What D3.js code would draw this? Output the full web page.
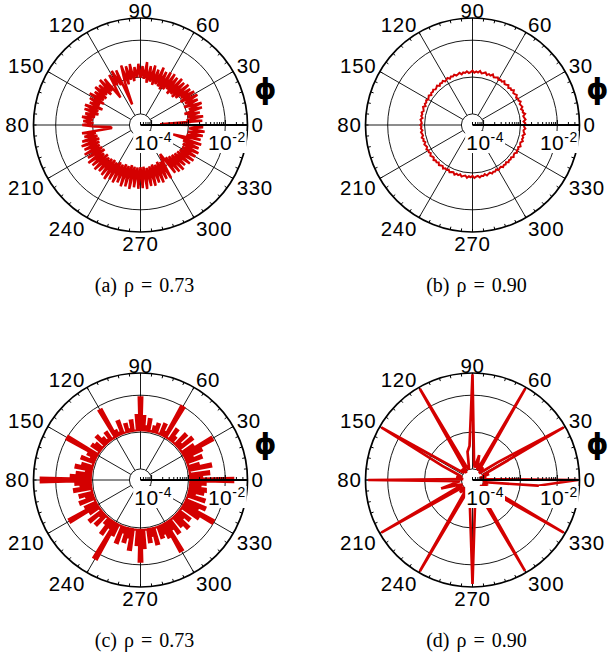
<!DOCTYPE html>
<html>
<head>
<meta charset="utf-8">
<script src="https://cdn.jsdelivr.net/npm/d3@7"></script>
<style>
  body { margin: 0; background: #fff; }
  svg { display: block; }
</style>
</head>
<body>
<svg id="chart" width="610" height="655"></svg>
<script>
const SVG = d3.select('#chart');
const UNIT = 1e-3;   // all series values below are in units of 10^-3

// angle labels, degrees
const labelAngles = [0, 30, 60, 90, 120, 150, 180, 210, 240, 270, 300, 330];
const angleLabels = ['0', '30', '60', '90', '120', '150', '80', '210', '240', '270', '300', '330'];
const ringValues = [1e-4, 1e-3, 1e-2];
const expLabels = [{ v: 1e-4, exp: '-4' }, { v: 1e-2, exp: '-2' }];
const captionLetters = ['a', 'b', 'c', 'd'];
const rhoValues = ['0.73', '0.90', '0.73', '0.90'];

// (a) every 2 degrees
const valuesA = [
  1.1, 0.17, 2.4, 0.9, 2.6, 1.0, 2.2, 0.85, 2.7, 1.2, 2.9, 0.95, 2.5, 1.1, 2.8,
  0.9, 2.6, 1.05, 2.3, 0.8, 2.5, 0.7, 2.2, 0.75, 2.4, 0.65, 2.1, 0.8, 2.3, 0.7,
  2.2, 0.62, 2.0, 0.7, 2.4, 0.75, 1.9, 0.68, 2.3, 0.8, 2.1, 0.72, 2.6, 0.9, 2.0,
  0.95, 2.3, 1.0, 1.9, 0.8, 2.4, 0.9, 2.2, 0.7, 2.5, 0.85, 0.2, 2.1, 0.8, 2.3,
  0.9, 2.0, 0.75, 0.42, 1.9, 0.8, 2.2, 0.7, 1.8, 0.85, 2.0, 0.75, 1.7, 0.8, 2.1,
  0.7, 1.8, 0.85, 1.6, 0.65, 2.0, 0.8, 1.9, 0.75, 1.7, 0.9, 2.0, 1.0, 1.8, 0.95,
  1.9, 0.9, 0.33, 0.3, 2.0, 0.85, 1.8, 0.8, 2.2, 0.75, 2.5, 0.8, 2.3, 0.85, 2.6,
  0.8, 2.4, 0.75, 2.8, 0.9, 2.5, 0.78, 2.7, 0.85, 2.4, 0.8, 2.6, 0.75, 2.9, 0.8,
  2.5, 0.7, 2.7, 0.75, 2.4, 0.68, 2.8, 0.72, 2.6, 0.65, 2.9, 0.7, 2.5, 0.72, 2.7,
  0.7, 2.6, 0.68, 2.8, 0.75, 2.4, 0.7, 2.5, 0.65, 2.2, 0.7, 2.4, 0.62, 2.1, 0.68,
  2.3, 0.6, 0.45, 2.0, 0.65, 2.2, 0.7, 2.4, 0.75, 2.1, 0.8, 2.5, 0.85, 2.7, 0.9,
  2.6, 0.95, 2.8, 0.9, 2.5, 0.85, 2.7, 0.42, 2.4, 0.95, 2.6, 1.0, 2.8, 1.05, 2.5
];

// (b) every 2 degrees
const valuesB = [
  1.28, 1.36, 1.22, 1.40, 1.30, 1.25, 1.44, 1.27, 1.33, 1.21, 1.38, 1.31, 1.26, 1.42, 1.29,
  1.35, 1.24, 1.41, 1.32, 1.27, 1.46, 1.30, 1.37, 1.25, 1.43, 1.34, 1.29, 1.48, 1.31, 1.39,
  1.28, 1.45, 1.36, 1.30, 1.50, 1.33, 1.41, 1.29, 1.47, 1.38, 1.32, 1.52, 1.35, 1.43, 1.31,
  1.49, 1.37, 1.30, 1.46, 1.34, 1.40, 1.27, 1.44, 1.35, 1.29, 1.42, 1.31, 1.38, 1.25, 1.40,
  1.30, 1.24, 1.39, 1.28, 1.34, 1.21, 1.37, 1.29, 1.23, 1.36, 1.26, 1.32, 1.20, 1.35, 1.27,
  1.22, 1.33, 1.24, 1.30, 1.18, 1.34, 1.25, 1.20, 1.32, 1.23, 1.29, 1.17, 1.31, 1.24, 1.19,
  1.30, 1.21, 1.27, 1.16, 1.29, 1.22, 1.18, 1.31, 1.20, 1.26, 1.15, 1.28, 1.21, 1.17, 1.30,
  1.19, 1.25, 1.16, 1.29, 1.22, 1.18, 1.32, 1.21, 1.27, 1.17, 1.31, 1.23, 1.19, 1.34, 1.22,
  1.28, 1.18, 1.33, 1.25, 1.20, 1.36, 1.23, 1.30, 1.19, 1.35, 1.26, 1.21, 1.38, 1.24, 1.31,
  1.20, 1.37, 1.27, 1.22, 1.36, 1.25, 1.30, 1.18, 1.33, 1.24, 1.19, 1.32, 1.22, 1.27, 1.16,
  1.30, 1.21, 1.17, 1.29, 1.20, 1.25, 1.15, 1.28, 1.19, 1.24, 1.16, 1.30, 1.21, 1.18, 1.32,
  1.22, 1.28, 1.19, 1.34, 1.24, 1.21, 1.36, 1.25, 1.31, 1.22, 1.38, 1.27, 1.23, 1.37, 1.26
];

// (c) every 3 degrees, drawn as polar steps above a base level
const baseC = 1.1;
const valuesC = [
  16.7, 2.4, 3.8, 1.15, 4.6, 2.2, 1.15, 3.0, 1.8, 3.6,
  8.9, 2.6, 1.15, 3.2, 1.5, 2.8, 1.15, 1.6, 2.5, 1.15,
  10.0, 1.5, 2.3, 1.15, 2.0, 1.6, 1.15, 2.4, 1.5, 2.8,
  8.9, 3.0, 1.15, 2.2, 1.3, 1.9, 1.15, 2.6, 1.3, 1.6,
  7.9, 1.15, 2.0, 1.3, 1.7, 2.4, 1.15, 1.8, 2.1, 1.15,
  10.0, 2.0, 1.5, 2.6, 1.15, 2.2, 3.2, 1.6, 2.8, 4.0,
  26.0, 3.0, 2.2, 3.4, 1.15, 2.6, 1.8, 2.9, 1.15, 2.4,
  8.4, 2.2, 1.15, 3.0, 1.5, 2.6, 1.15, 1.7, 3.2, 1.8,
  14.7, 2.4, 1.15, 3.4, 1.6, 2.8, 2.0, 4.2, 1.15, 3.0,
  8.4, 3.6, 1.15, 2.6, 1.8, 3.2, 1.15, 2.4, 2.0, 2.8,
  8.4, 2.0, 3.0, 1.15, 2.4, 3.4, 1.8, 2.6, 1.15, 3.8,
  9.5, 2.8, 4.2, 1.15, 3.4, 1.7, 2.8, 4.6, 2.2, 3.0
];

// (d) every 5 degrees
const valuesD = [
  36, 0.09, 0.12, 0.08, 0.15, 0.1,
  36, 0.35, 0.12, 0.09, 0.14, 0.1,
  37, 0.1, 0.13, 0.25, 0.11, 0.15,
  37, 0.42, 0.3, 0.12, 0.1, 0.14,
  36, 0.11, 0.09, 0.13, 0.1, 0.16,
  36, 0.4, 0.12, 0.1, 0.14, 0.09,
  34, 0.11, 0.15, 0.38, 0.12, 0.1,
  36, 0.13, 0.1, 0.15, 0.11, 0.09,
  36, 0.12, 0.1, 0.14, 0.11, 0.3,
  33, 0.28, 0.1, 0.13, 0.09, 0.12,
  35, 0.11, 0.14, 0.1, 0.12, 0.09,
  36, 0.15, 0.1, 0.12, 0.11, 3.0
];

const R = 107;
const rScale = d3.scaleLog().domain([5e-5, 0.04]).range([0, R]).clamp(true);
const RED = '#d40000';

const panels = [
  { values: valuesA, step: 2, kind: 'line', cx: 140.5, cy: 125, sw: 2.5 },
  { values: valuesB, step: 2, kind: 'line', cx: 472.5, cy: 125, sw: 2.0 },
  { values: valuesC, step: 3, kind: 'steps', base: baseC, cx: 140.5, cy: 480, sw: 1.6 },
  { values: valuesD, step: 5, kind: 'line', cx: 472.5, cy: 480, sw: 2.7 }
];

const toRad = deg => (90 - deg) * Math.PI / 180;   // 0 deg at 3 o'clock, counter-clockwise
const px = (deg, r) => r * Math.cos(deg * Math.PI / 180);
const py = (deg, r) => -r * Math.sin(deg * Math.PI / 180);

SVG.append('rect').attr('width', 610).attr('height', 655).attr('fill', '#fff');

panels.forEach((p, i) => drawPanel(p, i));

function drawPanel(p, i) {
  const g = SVG.append('g').attr('transform', `translate(${p.cx},${p.cy})`);

  // grid rings
  g.selectAll('circle.ring')
    .data(ringValues)
    .join('circle')
    .attr('r', d => rScale(d))
    .attr('fill', 'none')
    .attr('stroke', '#000')
    .attr('stroke-width', 0.9);

  // spokes
  g.selectAll('line.spoke')
    .data(d3.range(30, 360, 30))
    .join('line')
    .attr('x1', d => px(d, rScale(1e-4)))
    .attr('y1', d => py(d, rScale(1e-4)))
    .attr('x2', d => px(d, R))
    .attr('y2', d => py(d, R))
    .attr('stroke', '#000')
    .attr('stroke-width', 0.9);

  // outer circle and its ticks
  g.append('circle')
    .attr('r', R)
    .attr('fill', 'none')
    .attr('stroke', '#000')
    .attr('stroke-width', 1.7);

  g.selectAll('line.otick')
    .data(d3.range(0, 360, 6))
    .join('line')
    .attr('x1', d => px(d, R))
    .attr('y1', d => py(d, R))
    .attr('x2', d => px(d, R - 3))
    .attr('y2', d => py(d, R - 3))
    .attr('stroke', '#000')
    .attr('stroke-width', 1);

  // data
  if (p.kind === 'steps') {
    const pts = [];
    p.values.forEach((v, k) => {
      const deg = k * p.step;
      pts.push({ deg: deg - p.step / 2, v: v * UNIT });
      pts.push({ deg: deg + p.step / 2, v: v * UNIT });
    });
    pts.push(pts[0]);
    const area = d3.areaRadial()
      .angle(d => toRad(d.deg))
      .innerRadius(rScale(p.base * UNIT))
      .outerRadius(d => rScale(d.v));
    g.append('path')
      .datum(pts)
      .attr('d', area)
      .attr('fill', RED)
      .attr('stroke', RED)
      .attr('stroke-width', p.sw)
      .attr('stroke-linejoin', 'miter');
  } else {
    const pts = p.values.map((v, k) => ({ deg: k * p.step, v: v * UNIT }));
    const line = d3.lineRadial()
      .angle(d => toRad(d.deg))
      .radius(d => rScale(d.v))
      .curve(d3.curveLinearClosed);
    g.append('path')
      .datum(pts)
      .attr('d', line)
      .attr('fill', 'none')
      .attr('stroke', RED)
      .attr('stroke-width', p.sw)
      .attr('stroke-linejoin', 'miter')
      .attr('stroke-miterlimit', 3);
  }

  // radial axis along 0 deg
  g.append('line')
    .attr('x1', 0).attr('y1', 0)
    .attr('x2', R).attr('y2', 0)
    .attr('stroke', '#000')
    .attr('stroke-width', 1.8);

  g.selectAll('line.atick')
    .data(rScale.ticks())
    .join('line')
    .attr('x1', d => rScale(d))
    .attr('x2', d => rScale(d))
    .attr('y1', 0)
    .attr('y2', d => Number.isInteger(Math.round(Math.log10(d) * 1000) / 1000) ? -5 : -3)
    .attr('stroke', '#000')
    .attr('stroke-width', 1);

  // exponent labels with white boxes
  expLabels.forEach(e => {
    const t = g.append('text')
      .attr('x', rScale(e.v) + 1.5)
      .attr('y', 25)
      .attr('text-anchor', 'middle')
      .attr('font-family', "'Liberation Sans', Arial, sans-serif")
      .attr('font-size', 21)
      .attr('letter-spacing', 0.5);
    t.append('tspan').text('10');
    t.append('tspan').attr('dy', -8).attr('font-size', 14).text(e.exp);
    const bb = t.node().getBBox();
    g.insert('rect', () => t.node())
      .attr('x', bb.x - 1)
      .attr('y', 6)
      .attr('width', bb.width + 2)
      .attr('height', 22)
      .attr('fill', '#fff');
  });

  // angle labels
  const pad = 4;
  const capH = 14.5;
  g.selectAll('text.ang')
    .data(labelAngles)
    .join('text')
    .attr('x', d => px(d, R + pad))
    .attr('y', d => {
      const s = Math.sin(d * Math.PI / 180);
      const y = py(d, R + pad);
      if (s > 0.1) return y + 3.5;
      if (s < -0.1) return y + capH;
      return y + capH / 2;
    })
    .attr('text-anchor', d => {
      const c = Math.cos(d * Math.PI / 180);
      return c > 0.1 ? 'start' : (c < -0.1 ? 'end' : 'middle');
    })
    .attr('font-family', "'Liberation Sans', Arial, sans-serif")
    .attr('font-size', 20.5)
    .attr('letter-spacing', 0.7)
    .text((d, k) => angleLabels[k]);

  // phi symbol
  g.append('text')
    .attr('x', 125)
    .attr('y', -26)
    .attr('text-anchor', 'middle')
    .attr('font-family', "'DejaVu Sans', sans-serif")
    .attr('font-weight', 'bold')
    .attr('font-size', 28)
    .text('\u03D5');

  // caption
  g.append('text')
    .attr('x', 4)
    .attr('y', 167)
    .attr('text-anchor', 'middle')
    .attr('font-family', "'Liberation Serif', 'Times New Roman', serif")
    .attr('font-size', 20)
    .attr('word-spacing', 2)
    .text(`(${captionLetters[i]}) \u03C1 = ${rhoValues[i]}`);
}
</script>
</body>
</html>
